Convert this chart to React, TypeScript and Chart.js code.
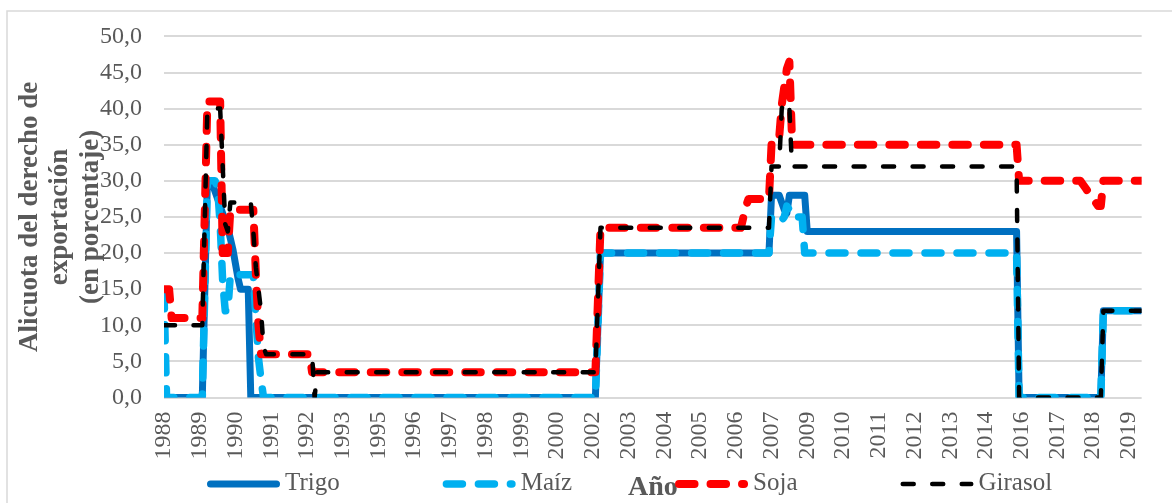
import React, { useEffect, useRef } from "react";
import { Chart, registerables } from "chart.js";

Chart.register(...registerables);

// ---------- DATA ----------
// x axis: monthly categories from FIRST_MONTH to LAST_MONTH, a label every LABEL_INTERVAL months
const FIRST_MONTH = "1988-01";
const LAST_MONTH = "2019-12";
const LABEL_INTERVAL = 14;
const TICK_LABELS = [
  "1988", "1989", "1990", "1991", "1992", "1993", "1995", "1996", "1997", "1998",
  "1999", "2000", "2002", "2003", "2004", "2005", "2006", "2007", "2009", "2010",
  "2011", "2012", "2013", "2014", "2016", "2017", "2018", "2019",
];

// Each entry: [month, rate %] — the rate applies from that month until the next entry.
const TRIGO: [string, number][] = [
  ["1988-01", 0], ["1989-05", 15], ["1989-06", 30], ["1989-08", 29.5], ["1989-09", 28.5],
  ["1989-10", 27.5], ["1989-11", 26.5], ["1989-12", 25.5], ["1990-01", 24.5], ["1990-02", 23.5],
  ["1990-03", 22], ["1990-04", 20.5], ["1990-05", 18.5], ["1990-06", 16.5], ["1990-07", 15],
  ["1990-11", 0], ["2002-03", 10], ["2002-04", 20], ["2007-11", 28], ["2008-03", 27],
  ["2008-04", 26], ["2008-05", 25.5], ["2008-06", 28], ["2009-01", 23], ["2015-12", 0],
  ["2018-09", 12],
];
const MAIZ: [string, number][] = [
  ["1988-01", 14.5], ["1988-02", 0], ["1989-05", 15], ["1989-06", 30], ["1989-10", 29],
  ["1989-11", 24], ["1989-12", 16], ["1990-01", 12], ["1990-03", 17], ["1991-01", 11],
  ["1991-02", 5.5], ["1991-03", 2.5], ["1991-04", 0], ["2002-03", 10], ["2002-04", 20],
  ["2007-11", 25], ["2008-03", 24.5], ["2008-04", 25], ["2008-05", 26.5], ["2008-06", 26],
  ["2008-07", 25], ["2008-12", 20], ["2015-12", 0], ["2018-09", 12],
];
const SOJA: [string, number][] = [
  ["1988-01", 15], ["1988-04", 11], ["1989-05", 26], ["1989-06", 41], ["1989-12", 20],
  ["1990-03", 26], ["1991-01", 17], ["1991-02", 10], ["1991-03", 6], ["1992-11", 3.5],
  ["2002-03", 13.5], ["2002-04", 23.5], ["2006-12", 25], ["2007-01", 26.5], ["2007-02", 27.5],
  ["2007-11", 35], ["2008-02", 36], ["2008-03", 40.5], ["2008-04", 43], ["2008-05", 45.5],
  ["2008-06", 46.5], ["2008-07", 36], ["2008-08", 35], ["2015-12", 30], ["2018-01", 29.5],
  ["2018-02", 29], ["2018-03", 28.5], ["2018-04", 28], ["2018-05", 27.5], ["2018-06", 27],
  ["2018-07", 26.5], ["2018-09", 30],
];
const GIRASOL: [string, number][] = [
  ["1988-01", 10], ["1989-05", 25], ["1989-06", 40], ["1989-12", 32], ["1990-01", 24],
  ["1990-02", 23], ["1990-03", 27], ["1990-12", 23], ["1991-01", 18], ["1991-02", 15],
  ["1991-03", 12], ["1991-04", 7], ["1991-05", 6], ["1992-12", 0], ["1993-01", 3.5],
  ["2002-03", 13.5], ["2002-04", 23.5], ["2007-11", 32], ["2008-03", 40], ["2008-04", 41],
  ["2008-06", 40], ["2008-07", 32], ["2015-12", 0], ["2018-09", 12],
];

// ---------- helpers ----------
const FONT = "'Liberation Serif', 'Times New Roman', serif";
const GRAY_TEXT = "#595959";

function monthIndex(s: string): number {
  const [y0, m0] = FIRST_MONTH.split("-").map(Number);
  const [y, m] = s.split("-").map(Number);
  return (y - y0) * 12 + (m - m0);
}
const LAST_INDEX = monthIndex(LAST_MONTH);

// turn change-points into the monthly series' vertices (value held until the month before a change)
function toPoints(changes: [string, number][]) {
  const pts: { x: number; y: number }[] = [];
  let prevM = -1;
  let prevV = 0;
  changes.forEach(([month, v], i) => {
    const m = monthIndex(month);
    if (i > 0 && m - 1 > prevM) pts.push({ x: m - 1, y: prevV });
    pts.push({ x: m, y: v });
    prevM = m;
    prevV = v;
  });
  if (LAST_INDEX > prevM) pts.push({ x: LAST_INDEX, y: prevV });
  return pts;
}

const framePlugin = {
  id: "frame",
  beforeDraw(chart: any) {
    const ctx = chart.ctx;
    ctx.save();
    ctx.fillStyle = "#ffffff";
    ctx.fillRect(0, 0, chart.width, chart.height);
    ctx.strokeStyle = "#d9d9d9";
    ctx.lineWidth = 1.5;
    ctx.strokeRect(7, 11, chart.width + 20, chart.height + 20);
    ctx.restore();
  },
};

const legendPlugin = {
  id: "excelLegend",
  afterDraw(chart: any) {
    const ctx = chart.ctx;
    const sample = 73;
    const textGap = 5;
    const itemGap = 103;
    const yLine = 484;
    const yText = 490;
    let x = 207;
    ctx.save();
    ctx.font = `25px ${FONT}`;
    chart.data.datasets.forEach((ds: any) => {
      const w = ds.borderWidth;
      ctx.strokeStyle = ds.borderColor;
      ctx.lineWidth = w;
      ctx.lineCap = "round";
      ctx.setLineDash(ds.borderDash || []);
      ctx.beginPath();
      ctx.moveTo(x + w / 2, yLine);
      ctx.lineTo(x + sample - w / 2, yLine);
      ctx.stroke();
      ctx.setLineDash([]);
      ctx.fillStyle = GRAY_TEXT;
      ctx.textBaseline = "alphabetic";
      ctx.textAlign = "left";
      ctx.fillText(ds.label, x + sample + textGap, yText);
      x += sample + textGap + ctx.measureText(ds.label).width + itemGap;
    });
    ctx.restore();
  },
};

export default function App() {
  const canvasRef = useRef<HTMLCanvasElement | null>(null);

  useEffect(() => {
    if (!canvasRef.current) return;
    const chart = new Chart(canvasRef.current, {
      type: "line",
      data: {
        datasets: [
          {
            label: "Trigo",
            data: toPoints(TRIGO),
            borderColor: "#0070C0",
            borderWidth: 7,
            borderCapStyle: "butt",
            borderJoinStyle: "round",
            pointRadius: 0,
            tension: 0,
            fill: false,
            order: 4,
          },
          {
            label: "Maíz",
            data: toPoints(MAIZ),
            borderColor: "#00B0F0",
            borderWidth: 7.5,
            borderDash: [16, 16],
            borderCapStyle: "round",
            borderJoinStyle: "round",
            pointRadius: 0,
            tension: 0,
            fill: false,
            order: 3,
          },
          {
            label: "Soja",
            data: toPoints(SOJA),
            borderColor: "#FF0000",
            borderWidth: 8,
            borderDash: [15.5, 16],
            borderCapStyle: "round",
            borderJoinStyle: "round",
            pointRadius: 0,
            tension: 0,
            fill: false,
            order: 2,
          },
          {
            label: "Girasol",
            data: toPoints(GIRASOL),
            borderColor: "#000000",
            borderWidth: 4.5,
            borderDash: [11, 18.5],
            borderCapStyle: "round",
            borderJoinStyle: "round",
            pointRadius: 0,
            tension: 0,
            fill: false,
            order: 1,
          },
        ] as any,
      },
      options: {
        animation: false,
        responsive: false,
        devicePixelRatio: 1,
        events: [],
        layout: { padding: { left: 0, right: 24, top: 35, bottom: 0 } },
        plugins: {
          legend: { display: false },
          tooltip: { enabled: false },
          title: { display: false },
        },
        scales: {
          x: {
            type: "linear",
            min: 0,
            max: LAST_INDEX,
            grid: { display: false, drawTicks: false },
            border: { display: false },
            ticks: {
              autoSkip: false,
              maxRotation: 90,
              minRotation: 90,
              padding: 14,
              color: GRAY_TEXT,
              font: { family: FONT, size: 24 },
              callback: (value: any) => {
                const i = Math.round(Number(value) / LABEL_INTERVAL);
                return TICK_LABELS[i] ?? "";
              },
            },
            afterBuildTicks: (scale: any) => {
              scale.ticks = TICK_LABELS.map((_, i) => ({ value: i * LABEL_INTERVAL }));
            },
            afterFit: (scale: any) => {
              scale.height = 105.5;
            },
            title: {
              display: true,
              text: "Año",
              color: GRAY_TEXT,
              font: { family: FONT, size: 28, weight: "bold", lineHeight: 1 },
              padding: { top: 0, bottom: 1.5 },
            },
          },
          y: {
            type: "linear",
            min: 0,
            max: 50,
            grid: { color: "#d9d9d9", lineWidth: 2, drawTicks: false },
            border: { display: false },
            ticks: {
              stepSize: 5,
              padding: 22,
              color: GRAY_TEXT,
              font: { family: FONT, size: 24 },
              callback: (value: any) => Number(value).toFixed(1).replace(".", ","),
            },
            afterFit: (scale: any) => {
              scale.width = 164;
            },
            title: {
              display: true,
              text: ["Alicuota del derecho de", "exportación", "(en porcentaje)"],
              color: GRAY_TEXT,
              font: { family: FONT, size: 27, weight: "bold", lineHeight: 1.12 },
              padding: { top: 15, bottom: 0 },
            },
          },
        },
      } as any,
      plugins: [framePlugin, legendPlugin],
    });
    return () => chart.destroy();
  }, []);

  return (
    <div style={{ position: "fixed", left: 0, top: 0, width: 1172, height: 503, background: "#fff" }}>
      <canvas ref={canvasRef} width={1172} height={503} style={{ display: "block" }} />
    </div>
  );
}
